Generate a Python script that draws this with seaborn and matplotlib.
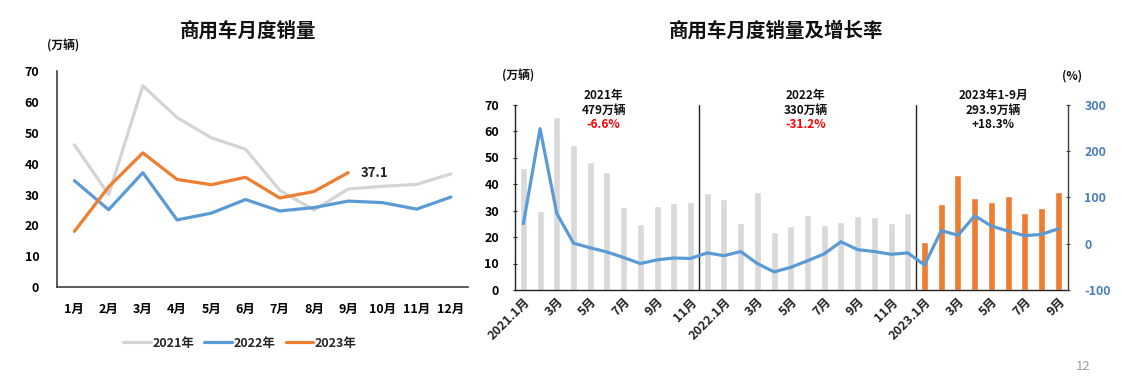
import matplotlib
matplotlib.use("Agg")
import matplotlib.pyplot as plt
import seaborn as sns
import pandas as pd
import numpy as np

# ---------------- data ----------------
months = ["1月", "2月", "3月", "4月", "5月", "6月", "7月", "8月", "9月", "10月", "11月", "12月"]
sales_2021 = [46.1, 30.0, 65.2, 54.9, 48.4, 44.7, 31.4, 25.0, 31.8, 32.7, 33.3, 36.7]
sales_2022 = [34.5, 25.1, 37.1, 21.8, 24.0, 28.4, 24.7, 25.8, 27.9, 27.4, 25.3, 29.2]
sales_2023 = [18.1, 32.5, 43.5, 34.9, 33.2, 35.6, 28.9, 31.0, 37.1]
year_labels = ["2021年", "2022年", "2023年"]

growth = [43, 248, 65, 1, -9, -18, -30, -43, -35, -31, -32, -20,
          -26, -17, -43, -61, -51, -37, -22, 4, -13, -17, -23, -20,
          -46, 28, 18, 60, 38, 27, 17, 20, 32]

right_tick_labels = ["2021.1月", "3月", "5月", "7月", "9月", "11月",
                     "2022.1月", "3月", "5月", "7月", "9月", "11月",
                     "2023.1月", "3月", "5月", "7月", "9月"]

period_names = ["2021年", "2022年", "2023年1-9月"]
period_totals = ["479万辆", "330万辆", "293.9万辆"]
period_rates = ["-6.6%", "-31.2%", "+18.3%"]

# ---------------- style ----------------
sns.set_theme(style="white")
plt.rcParams['font.family'] = ['Noto Sans CJK SC', 'DejaVu Sans']
plt.rcParams['axes.unicode_minus'] = False

GREY_LINE = "#d4d4d4"
BLUE = "#5b9bd5"
ORANGE = "#ed7d31"
GREY_BAR = "#d9d9d9"
AX_BLUE = "#4a7ebb"
RED = "#ff0000"

W, H = 1122, 379
fig = plt.figure(figsize=(W / 100, H / 100), dpi=100)
fig.patch.set_facecolor("white")


def frac(x0, y0, x1, y1):
    return [x0 / W, 1 - y1 / H, (x1 - x0) / W, (y1 - y0) / H]


# ---------------- left chart ----------------
ax1 = fig.add_axes(frac(57.3, 71, 468, 287.3))
rows = []
for lab, vals in zip(year_labels, [sales_2021, sales_2022, sales_2023]):
    for i, v in enumerate(vals):
        rows.append({"month": i, "sales": v, "year": lab})
df_left = pd.DataFrame(rows)
sns.lineplot(data=df_left, x="month", y="sales", hue="year",
             palette=[GREY_LINE, BLUE, ORANGE], linewidth=2.3, ax=ax1,
             sort=False, estimator=None)
ax1.set_xlim(-0.5, 11.5)
ax1.set_ylim(0, 70)
ax1.set_yticks(range(0, 71, 10))
ax1.set_xticks(range(12))
ax1.set_xticklabels(months)
ax1.set_xlabel("")
ax1.set_ylabel("")
for s in ["top", "right"]:
    ax1.spines[s].set_visible(False)
for s in ["left", "bottom"]:
    ax1.spines[s].set_color("#404040")
    ax1.spines[s].set_linewidth(1.2)
ax1.tick_params(axis="both", length=0, labelsize=9, colors="black")
ax1.tick_params(axis="y", pad=13)
ax1.tick_params(axis="x", pad=11)
for t in ax1.get_xticklabels() + ax1.get_yticklabels():
    t.set_fontweight("bold")
ax1.annotate(f"{sales_2023[-1]:.1f}", xy=(len(sales_2023) - 1, sales_2023[-1]),
             xytext=(9, 0), textcoords="offset points", va="center", ha="left",
             fontsize=9.5, fontweight="bold", color="#222222")
leg = ax1.legend(loc="center", bbox_to_anchor=(240 / W, 1 - 343 / H),
                 bbox_transform=fig.transFigure, ncol=3, frameon=False,
                 handlelength=2.2, columnspacing=0.8, handletextpad=0.15,
                 prop={"weight": "bold", "size": 9})
for line in leg.get_lines():
    line.set_linewidth(2.3)

fig.text(248 / W, 1 - 31 / H, "商用车月度销量", ha="center", va="center",
         fontsize=14, fontweight="bold", color="#111111")
fig.text(63 / W, 1 - 46 / H, "(万辆)", ha="center", va="center",
         fontsize=8.5, fontweight="bold", color="#111111")

# ---------------- right chart ----------------
ax2 = fig.add_axes(frac(515, 104.5, 1068.3, 290))
all_sales = sales_2021 + sales_2022 + sales_2023
groups = ["past"] * (len(sales_2021) + len(sales_2022)) + ["cur"] * len(sales_2023)
df_right = pd.DataFrame({"pos": [str(i) for i in range(len(all_sales))],
                         "sales": all_sales, "grp": groups})
sns.barplot(data=df_right, x="pos", y="sales", hue="grp",
            palette={"past": GREY_BAR, "cur": ORANGE}, dodge=False,
            width=0.42, ax=ax2, legend=False, saturation=1)
ax2.set_xlim(-0.5, len(all_sales) - 0.4)
ax2.set_ylim(0, 70)
ax2.set_yticks(range(0, 71, 10))
ax2.set_xticks(range(0, len(all_sales), 2))
ax2.set_xticklabels(right_tick_labels, rotation=45, ha="right",
                    rotation_mode="anchor")
ax2.set_xlabel("")
ax2.set_ylabel("")
ax2.spines["top"].set_visible(False)
ax2.spines["right"].set_visible(False)
for s in ["left", "bottom"]:
    ax2.spines[s].set_color("#222222")
    ax2.spines[s].set_linewidth(1.0)
ax2.tick_params(axis="y", length=3, direction="inout", labelsize=9,
                colors="#222222", labelcolor="black", pad=10, width=0.8)
ax2.tick_params(axis="x", length=0, labelsize=9, pad=4)
for t in ax2.get_xticklabels() + ax2.get_yticklabels():
    t.set_fontweight("bold")

ax3 = ax2.twinx()
sns.lineplot(x=np.arange(len(growth)), y=growth, color=BLUE, linewidth=2.3,
             ax=ax3)
ax3.set_ylim(-100, 300)
ax3.set_yticks(range(-100, 301, 100))
ax3.set_xlim(ax2.get_xlim())
for s in ["top", "left", "bottom"]:
    ax3.spines[s].set_visible(False)
ax3.spines["right"].set_color("#404040")
ax3.spines["right"].set_linewidth(1.0)
ax3.tick_params(axis="y", length=3, direction="inout", labelsize=9,
                colors="#404040", labelcolor=AX_BLUE, pad=10, width=0.8)
for t in ax3.get_yticklabels():
    t.set_fontweight("bold")

# separators
for xs in [10.5, 23.5]:
    ax2.axvline(xs, ymin=0, ymax=1, color="#222222", linewidth=1.0)

# period annotations
period_x = [4.8, 16.9, 28.1]
rate_colors = [RED, RED, "#111111"]
trans = ax2.get_xaxis_transform()
ax_h = 290 - 104.5
for xp, n, tot, r, c in zip(period_x, period_names, period_totals,
                            period_rates, rate_colors):
    ax2.text(xp, (290 - 95) / ax_h, n, transform=trans, ha="center",
             va="center", fontsize=8.5, fontweight="bold", color="#111111")
    ax2.text(xp, (290 - 110) / ax_h, tot, transform=trans, ha="center",
             va="center", fontsize=8.5, fontweight="bold", color="#111111")
    ax2.text(xp, (290 - 125) / ax_h, r, transform=trans, ha="center",
             va="center", fontsize=8.5, fontweight="bold", color=c)

fig.text(776 / W, 1 - 31 / H, "商用车月度销量及增长率", ha="center", va="center",
         fontsize=14, fontweight="bold", color="#111111")
fig.text(518 / W, 1 - 76 / H, "(万辆)", ha="center", va="center",
         fontsize=8.5, fontweight="bold", color="#111111")
fig.text(1072 / W, 1 - 76 / H, "(%)", ha="center", va="center",
         fontsize=8.5, fontweight="bold", color="#111111")

fig.text(1083 / W, 1 - 367 / H, "12", ha="center", va="center",
         fontsize=9.5, color="#a0a0a0")

fig.savefig("out.png", dpi=100, facecolor="white")
